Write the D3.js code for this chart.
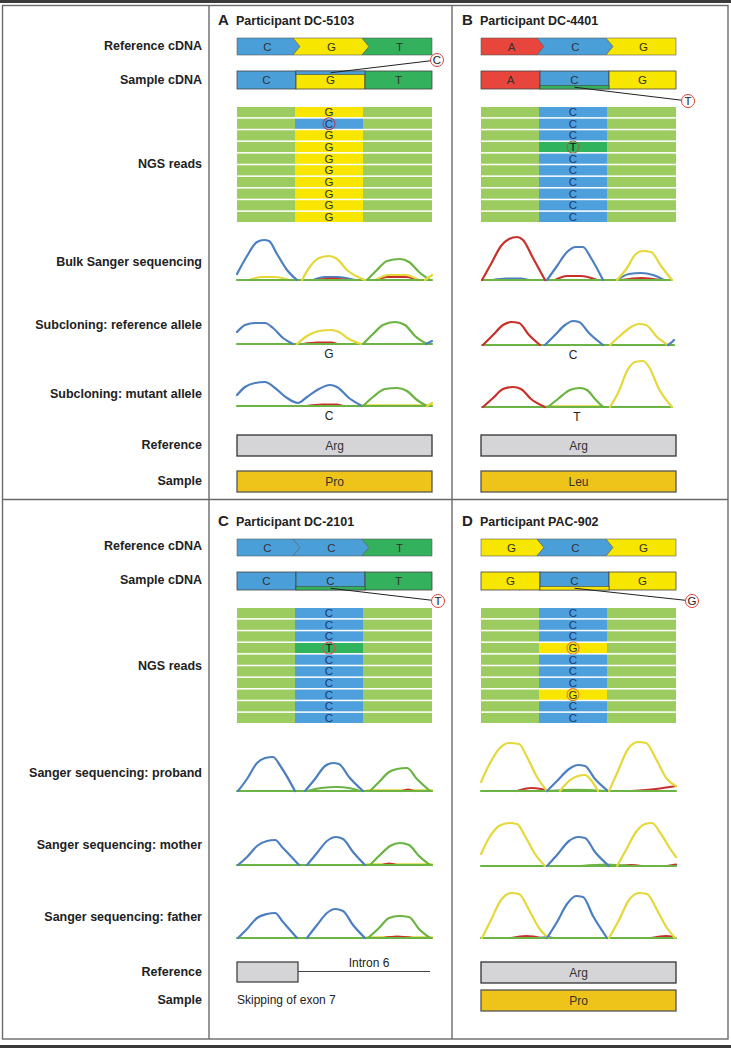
<!DOCTYPE html>
<html><head><meta charset="utf-8">
<script src="https://cdn.jsdelivr.net/npm/d3@7"></script>
<style>
body{margin:0;background:#fff;}
svg text{font-family:"Liberation Sans Narrow","Arial Narrow","Liberation Sans",sans-serif;}
</style></head><body>
<svg id="c" width="731" height="1048"></svg>
<script>
// ---------------- DATA ----------------
const rowLabelsTop = ["Reference cDNA","Sample cDNA","NGS reads","Bulk Sanger sequencing","Subcloning: reference allele","Subcloning: mutant allele","Reference","Sample"];
const rowLabelsBottom = ["Reference cDNA","Sample cDNA","NGS reads","Sanger sequencing: proband","Sanger sequencing: mother","Sanger sequencing: father","Reference","Sample"];
const panelIds = ["A","B","C","D"];
const participants = ["Participant DC-5103","Participant DC-4401","Participant DC-2101","Participant PAC-902"];
const refCodons = [["C","G","T"],["A","C","G"],["C","C","T"],["G","C","G"]];
const sampleVariant = ["C","T","T","G"];
const ngsReads = [
  ["G","C","G","G","G","G","G","G","G","G"],
  ["C","C","C","T","C","C","C","C","C","C"],
  ["C","C","C","T","C","C","C","C","C","C"],
  ["C","C","C","G","C","C","C","G","C","C"]
];
const refProtein = ["Arg","Arg",null,"Arg"];
const sampleProtein = ["Pro","Leu",null,"Pro"];
const exonTexts = ["Intron 6","Skipping of exon 7"];
const alleleCalls = [["G","C"],["C","T"]];

// chromatogram traces: [base, [[scan, intensity], ...]]
const chromA = [
 [ // bulk
  ["G",[[12,0],[25,3],[38,3],[52,0]]],
  ["C",[[76,0],[88,3],[100,3],[118,0]]],
  ["A",[[80,0],[95,1.5],[110,0]]],
  ["A",[[140,0],[150,3],[170,3],[180,0]]],
  ["G",[[138,0],[152,5],[168,5],[182,0]]],
  ["T",[[0,0],[195,0]]],
  ["C",[[0,6],[10,24],[20,38],[27,40],[32,39],[40,26],[50,10],[60,0]]],
  ["G",[[65,0],[72,12],[82,22],[92,24],[100,21],[110,10],[128,0]]],
  ["T",[[130,0],[140,10],[150,19],[163,21],[172,18],[182,8],[193,0]]],
  ["G",[[188,0],[195,5]]]
 ],
 [ // reference allele
  ["A",[[66,0],[80,1.5],[95,1.5],[100,0]]],
  ["T",[[0,0],[195,0]]],
  ["C",[[0,12],[8,19],[18,21],[28,21],[36,16],[46,6],[56,0]]],
  ["G",[[60,0],[70,8],[82,13],[94,14],[102,12],[112,5],[124,0]]],
  ["T",[[126,0],[136,10],[146,19],[158,22],[168,19],[178,8],[190,0]]],
  ["C",[[189,0],[195,3]]]
 ],
 [ // mutant allele
  ["A",[[70,0],[85,1.5],[100,1.5],[106,0]]],
  ["G",[[126,0.6],[195,0.6]]],
  ["T",[[0,0],[195,0]]],
  ["C",[[0,11],[8,19],[18,23],[28,24],[38,18],[50,8],[61,3],[70,9],[82,17],[93,21],[100,19],[112,8],[125,0]]],
  ["T",[[126,0],[136,9],[148,17],[160,18],[170,15],[180,6],[190,0]]],
  ["G",[[190,0],[195,3]]]
 ]
];
const chromB = [
 [
  ["C",[[12,0],[25,1.5],[40,1.5],[48,0]]],
  ["A",[[74,0],[86,4],[100,4],[116,0]]],
  ["A",[[140,0],[160,2],[180,0]]],
  ["C",[[136,0],[148,6],[160,7],[172,5],[183,0]]],
  ["T",[[1,0],[191,0]]],
  ["A",[[1,0],[10,16],[20,34],[28,41],[36,43],[42,40],[52,22],[64,0]]],
  ["C",[[66,0],[76,14],[86,28],[95,33],[102,33],[110,22],[122,0]]],
  ["G",[[136,0],[146,12],[154,25],[162,29],[170,28],[180,14],[191,0]]]
 ],
 [
  ["T",[[1,0],[193,0]]],
  ["A",[[2,0],[12,10],[22,20],[30,23],[38,22],[48,10],[59,0]]],
  ["C",[[64,0],[74,10],[84,20],[92,24],[98,23],[108,12],[122,0]]],
  ["G",[[129,0],[140,10],[150,18],[158,21],[165,20],[176,8],[187,0]]],
  ["C",[[187,0],[191,3],[193,5]]]
 ],
 [
  ["G",[[66,0.6],[122,0.6]]],
  ["T",[[1,0],[191,0]]],
  ["A",[[2,0],[12,9],[22,18],[32,20],[40,18],[50,8],[64,0]]],
  ["T",[[67,0],[77,8],[89,17],[99,19],[106,17],[114,8],[122,0]]],
  ["G",[[129,0],[138,16],[146,36],[154,45],[162,46],[168,40],[178,18],[191,0]]]
 ]
];
const chromC = [
 [
  ["G",[[130,0.6],[195,0.6]]],
  ["A",[[165,0],[171,1.5],[177,0]]],
  ["T",[[0,0],[195,0]]],
  ["T",[[70,0],[84,3],[100,4],[112,3],[123,0]]],
  ["C",[[1,0],[10,12],[20,28],[28,33],[36,34],[44,24],[58,0]]],
  ["C",[[68,0],[78,12],[88,25],[96,28],[102,27],[112,14],[126,0]]],
  ["T",[[133,0],[142,9],[152,19],[160,22],[170,23],[180,12],[193,0]]]
 ],
 [
  ["G",[[130,0.6],[195,0.6]]],
  ["A",[[145,0],[152,1.5],[160,0]]],
  ["T",[[0,0],[195,0]]],
  ["C",[[1,0],[10,8],[20,19],[30,24],[38,25],[46,17],[62,0]]],
  ["C",[[70,0],[80,12],[90,24],[99,28],[106,26],[116,13],[128,0]]],
  ["T",[[133,0],[143,10],[153,19],[163,22],[172,20],[182,9],[193,0]]]
 ],
 [
  ["G",[[130,0.6],[195,0.6]]],
  ["A",[[146,0],[160,1.5],[176,0]]],
  ["T",[[0,0],[195,0]]],
  ["C",[[1,0],[10,9],[20,20],[30,24],[38,25],[46,16],[60,0]]],
  ["C",[[70,0],[80,13],[90,25],[98,29],[106,27],[116,13],[128,0]]],
  ["T",[[131,0],[142,10],[152,20],[162,22],[172,21],[182,9],[193,0]]]
 ]
];
const chromD = [
 [
  ["A",[[36,0],[50,3],[60,2],[66,0]]],
  ["A",[[150,0],[175,2],[195,5]]],
  ["T",[[0,0],[195,0]]],
  ["T",[[66,0],[95,1.2],[126,0]]],
  ["G",[[0,9],[8,26],[18,42],[28,48],[38,47],[46,34],[56,14],[66,0]]],
  ["C",[[66,0],[76,10],[88,22],[97,26],[104,25],[114,12],[127,0]]],
  ["G",[[79,0],[88,10],[97,15],[104,16],[110,11],[117,0]]],
  ["G",[[128,0],[137,20],[147,42],[157,49],[165,48],[175,32],[186,12],[195,5]]]
 ],
 [
  ["A",[[140,0],[150,1],[160,0]]],
  ["A",[[186,0],[195,1.5]]],
  ["T",[[0,0],[195,0]]],
  ["T",[[100,0],[125,1.5],[150,0]]],
  ["G",[[0,12],[8,28],[18,40],[28,43],[36,42],[44,30],[54,12],[64,0]]],
  ["C",[[66,0],[76,11],[88,25],[97,29],[104,28],[114,14],[128,0]]],
  ["G",[[136,0],[145,16],[155,34],[164,42],[171,43],[180,32],[190,16],[195,9]]]
 ],
 [
  ["A",[[30,0],[45,2],[55,1],[62,0]]],
  ["A",[[170,0],[185,2],[193,1]]],
  ["C",[[60,0],[66,1],[72,0]]],
  ["T",[[0,0],[195,0]]],
  ["G",[[1,0],[10,18],[20,38],[30,45],[38,44],[48,28],[58,10],[67,0]]],
  ["C",[[66,0],[76,16],[86,34],[95,42],[102,41],[112,22],[126,0]]],
  ["G",[[128,0],[138,18],[148,38],[158,45],[166,44],[176,28],[186,10],[194,0]]]
 ]
];
const chroms = [chromA, chromB, chromC, chromD];

// ---------------- STYLE ----------------
const cdnaFill = {C:"#4a9fd9", G:"#f7e600", T:"#33b15c", A:"#e8453c"};
const ngsFill = {C:"#4da0dc", G:"#f8e500", T:"#2fb35c", A:"#e8453c"};
const ngsBg = "#9ccc60";
const letterFill = {C:"#1d3a70", G:"#333", T:"#1a1a1a", A:"#222"};
const traceColor = {C:"#4d7fc0", G:"#e4d83a", T:"#6bb443", A:"#c8312b"};
const ngsCircle = ["#b0405a","#8b6a3a","#d9534f","#e8821e"];

const svg = d3.select("#c");
const W = 731;

// frame
svg.append("rect").attr("x",0).attr("y",0).attr("width",W).attr("height",3).attr("fill","#3a3a3a");
svg.append("rect").attr("x",0).attr("y",1045).attr("width",W).attr("height",3).attr("fill","#3a3a3a");
svg.append("rect").attr("x",2.5).attr("y",5.5).attr("width",725.5).attr("height",1033.5)
  .attr("fill","none").attr("stroke","#6a6a6a").attr("stroke-width",1.4);
[[209,5.5,209,1039],[452,5.5,452,1039],[2.5,499.5,728,499.5]].forEach(l=>{
  svg.append("line").attr("x1",l[0]).attr("y1",l[1]).attr("x2",l[2]).attr("y2",l[3])
    .attr("stroke","#6a6a6a").attr("stroke-width",1.4);
});

// row labels
const labelYTop = [46,80,164,262,325,394,445,481];
const labelYBot = [546,580,666,773,845,917,972,1000];
function drawLabels(labels, ys){
  svg.append("g").selectAll("text").data(labels).join("text")
    .attr("x",202).attr("y",(d,i)=>ys[i]+4).attr("text-anchor","end")
    .attr("font-size",12.5).attr("font-weight","bold").attr("fill","#222").text(d=>d);
}
drawLabels(rowLabelsTop, labelYTop);
drawLabels(rowLabelsBottom, labelYBot);

const panelX = [237,481,237,481];
const chromBase = [[280,344,406],[280,345,407],[791,865,938],[791,866,938]];
const circlePos = [[5,-11,"top"],[12,12,"bottom"],[6,11,"bottom"],[16,11,"bottom"]];
const line = d3.line().curve(d3.curveMonotoneX);

function drawPanel(p){
  const x0 = panelX[p], yo = p<2 ? 0 : 501;
  const g = svg.append("g");
  // title
  g.append("text").attr("x",x0-19).attr("y",25+yo).attr("font-size",15).attr("font-weight","bold").attr("fill","#222").text(panelIds[p]);
  g.append("text").attr("x",x0-1).attr("y",25+yo).attr("font-size",12.5).attr("font-weight","bold").attr("fill","#222").text(participants[p]);

  // reference cDNA (chevrons)
  const xb = d3.scaleLinear().domain([0,1,2,3]).range([x0,x0+59,x0+128,x0+195]);
  const ry0 = 38+yo, ry1 = 55+yo, rym = (ry0+ry1)/2;
  refCodons[p].forEach((b,i)=>{
    const L = xb(i), R = xb(i+1), pts = [];
    pts.push(i===0?[L,ry0]:[L-3,ry0]);
    pts.push(i===2?[R,ry0]:[R-3,ry0]);
    if(i<2) pts.push([R+4,rym]);
    pts.push(i===2?[R,ry1]:[R-3,ry1]);
    pts.push(i===0?[L,ry1]:[L-3,ry1]);
    if(i>0) pts.push([L+4,rym]);
    g.append("path").attr("d","M"+pts.map(q=>q.join(",")).join("L")+"Z")
      .attr("fill",cdnaFill[b]).attr("stroke","#555").attr("stroke-opacity",0.7).attr("stroke-width",0.8);
    g.append("text").attr("x",(L+R)/2+1).attr("y",rym+4).attr("text-anchor","middle")
      .attr("font-size",11.5).attr("fill","#333").text(b);
  });

  // sample cDNA
  const sy0 = 71+yo, sy1 = 89+yo;
  refCodons[p].forEach((b,i)=>{
    const L = xb(i), R = xb(i+1);
    g.append("rect").attr("x",L).attr("y",sy0).attr("width",R-L).attr("height",sy1-sy0)
      .attr("fill",cdnaFill[b]).attr("stroke","#444").attr("stroke-width",0.8);
    g.append("text").attr("x",(L+R)/2).attr("y",(sy0+sy1)/2+4).attr("text-anchor","middle")
      .attr("font-size",11.5).attr("fill","#333").text(b);
  });
  const cp = circlePos[p];
  const alt = sampleVariant[p];
  const L1 = xb(1), R1 = xb(2);
  const stripY = cp[2]==="top" ? sy0 : sy1-3.5;
  g.append("rect").attr("x",L1).attr("y",stripY).attr("width",R1-L1).attr("height",3.5)
    .attr("fill",cdnaFill[alt]).attr("stroke","#444").attr("stroke-width",0.6);
  const ccx = xb(3)+cp[0], ccy = (cp[2]==="top"?sy0:sy1)+cp[1];
  const lx = (L1+R1)/2, ly = stripY+1.75;
  const ang = Math.atan2(ccy-ly, ccx-lx);
  g.append("line").attr("x1",lx).attr("y1",ly).attr("x2",ccx-6.5*Math.cos(ang)).attr("y2",ccy-6.5*Math.sin(ang))
    .attr("stroke","#222").attr("stroke-width",1);
  g.append("circle").attr("cx",ccx).attr("cy",ccy).attr("r",6.5).attr("fill","#fff")
    .attr("stroke","#e0403a").attr("stroke-width",1);
  g.append("text").attr("x",ccx).attr("y",ccy+4).attr("text-anchor","middle").attr("font-size",11.5).attr("fill","#222").text(alt);

  // NGS reads
  const xn = d3.scaleLinear().domain([0,1,2,3]).range([x0,x0+58,x0+126,x0+195]);
  const yr = d3.scaleBand().domain(d3.range(ngsReads[p].length)).range([107+yo,222+yo]).paddingInner(0.13);
  const refMid = refCodons[p][1];
  ngsReads[p].forEach((b,i)=>{
    const y = yr(i), h = yr.bandwidth();
    g.append("rect").attr("x",xn(0)).attr("y",y).attr("width",xn(1)-xn(0)).attr("height",h).attr("fill",ngsBg);
    g.append("rect").attr("x",xn(1)).attr("y",y).attr("width",xn(2)-xn(1)).attr("height",h).attr("fill",ngsFill[b]);
    g.append("rect").attr("x",xn(2)).attr("y",y).attr("width",xn(3)-xn(2)).attr("height",h).attr("fill",ngsBg);
    const cx = (xn(1)+xn(2))/2;
    if(b!==refMid){
      g.append("circle").attr("cx",cx).attr("cy",y+h/2).attr("r",6).attr("fill","none")
        .attr("stroke",ngsCircle[p]).attr("stroke-width",1.1);
    }
    g.append("text").attr("x",cx).attr("y",y+h/2+4).attr("text-anchor","middle")
      .attr("font-size",11.5).attr("fill",letterFill[b]).text(b);
  });

  // chromatograms
  const xc = d3.scaleLinear().domain([0,195]).range([x0,x0+195]);
  chroms[p].forEach((traces,k)=>{
    const base = chromBase[p][k];
    const yc = d3.scaleLinear().domain([0,50]).range([base,base-50]);
    traces.forEach(t=>{
      g.append("path").attr("d",line(t[1].map(q=>[xc(q[0]),yc(q[1])])))
        .attr("fill","none").attr("stroke",traceColor[t[0]]).attr("stroke-width",2.2)
        .attr("stroke-linejoin","round").attr("stroke-linecap","round");
    });
  });
  if(p<2){
    const cx = (xn(1)+xn(2))/2;
    alleleCalls[p].forEach((a,k)=>{
      g.append("text").attr("x",cx+(p===1&&k===1?4:0)).attr("y",chromBase[p][k+1]+14)
        .attr("text-anchor","middle").attr("font-size",12).attr("fill","#222").text(a);
    });
  }

  // protein / exon row
  const pr = p<2 ? [435,471] : [962,990];
  if(refProtein[p]){
    g.append("rect").attr("x",x0).attr("y",pr[0]).attr("width",195).attr("height",21)
      .attr("fill","#d5d5d8").attr("stroke","#333").attr("stroke-width",1.3);
    g.append("text").attr("x",x0+97.5).attr("y",pr[0]+14.5).attr("text-anchor","middle").attr("font-size",12).attr("fill","#333").text(refProtein[p]);
    g.append("rect").attr("x",x0).attr("y",pr[1]).attr("width",195).attr("height",21)
      .attr("fill","#eec31a").attr("stroke","#555").attr("stroke-width",1.3);
    g.append("text").attr("x",x0+97.5).attr("y",pr[1]+14.5).attr("text-anchor","middle").attr("font-size",12).attr("fill","#333").text(sampleProtein[p]);
  } else {
    g.append("rect").attr("x",x0).attr("y",962).attr("width",61).attr("height",20)
      .attr("fill","#d5d5d8").attr("stroke","#444").attr("stroke-width",1.3);
    g.append("line").attr("x1",x0+61).attr("y1",971.5).attr("x2",x0+193).attr("y2",971.5)
      .attr("stroke","#444").attr("stroke-width",1.2);
    g.append("text").attr("x",x0+132).attr("y",967).attr("text-anchor","middle").attr("font-size",12).attr("fill","#222").text(exonTexts[0]);
    g.append("text").attr("x",x0).attr("y",1004).attr("font-size",12).attr("fill","#222").text(exonTexts[1]);
  }
}
[0,1,2,3].forEach(drawPanel);
</script></body></html>
